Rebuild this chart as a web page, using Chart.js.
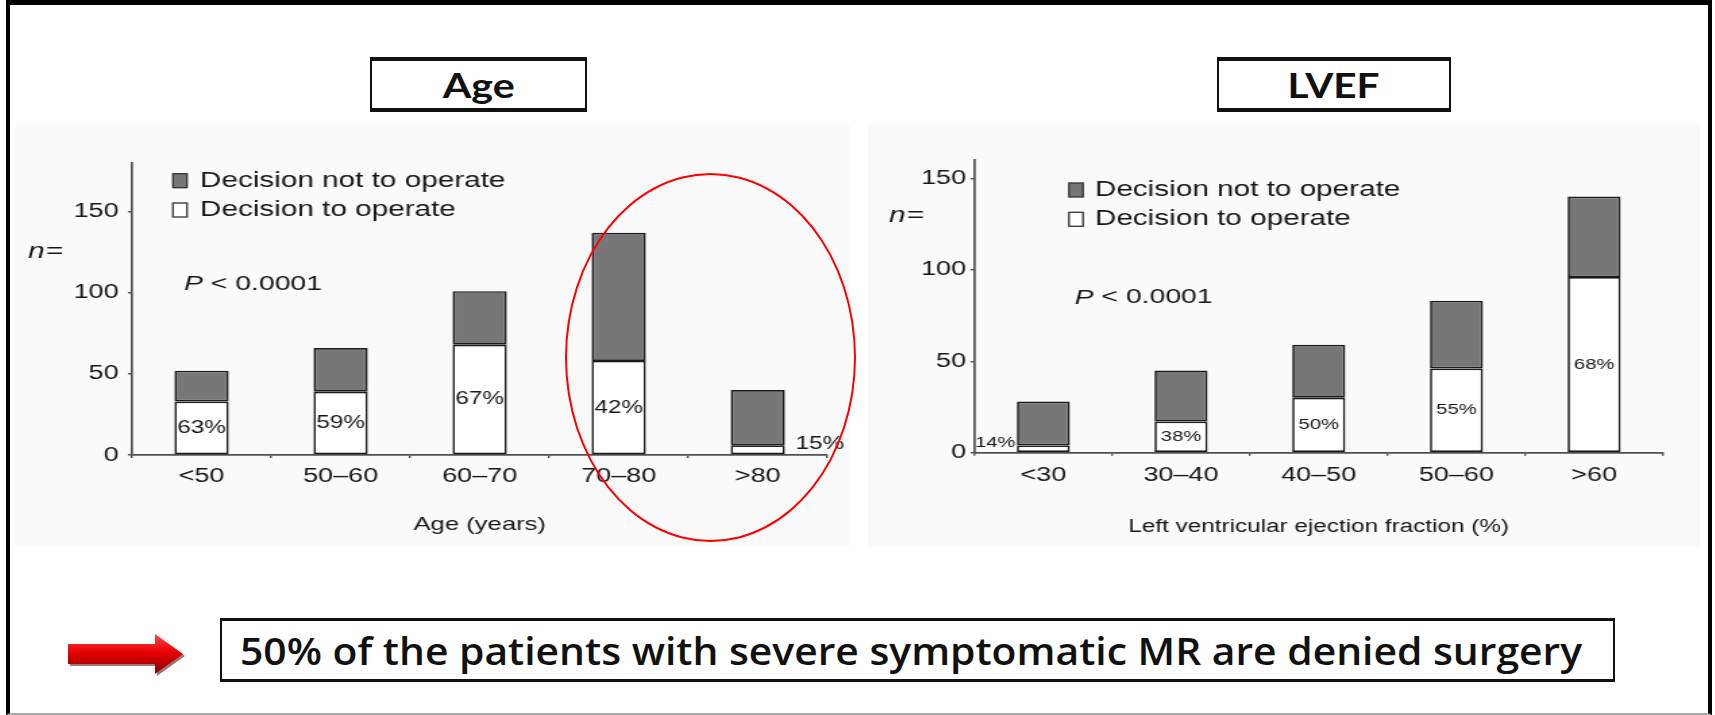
<!DOCTYPE html>
<html>
<head>
<meta charset="utf-8">
<script src="https://cdn.jsdelivr.net/npm/chart.js@4.4.0/dist/chart.umd.min.js"></script>
<style>
  html, body { margin: 0; padding: 0; background: #fff; }
  body { width: 1715px; height: 715px; position: relative; overflow: hidden; font-family: "Liberation Sans", Arial, sans-serif; }
  .abs { position: absolute; box-sizing: border-box; }
  #frame { left: 6px; top: 0; width: 1706px; height: 715px; border-top: 5px solid #000; border-left: 4px solid #000; border-right: 4px solid #000; border-bottom: 2px solid #aaa; }
  .panel { background: #fafafa; }
  .titlebox { border-top: 4px solid #111; border-bottom: 4px solid #111; border-left: 2px solid #111; border-right: 2px solid #111; background: #fff;
              display: flex; align-items: center; justify-content: center; }
  .titlebox span { font-family: Lato, "Open Sans", sans-serif; font-weight: 700; font-size: 34px; color: #111; display: inline-block; transform-origin: center center; }
  .stretch { transform: scaleX(1.35); transform-origin: left top; }
  #ellipse { left: 565px; top: 173px; width: 291px; height: 369px; border: 2.5px solid #f00; border-radius: 50%; }
  #msgbox { left: 220px; top: 618px; width: 1395px; height: 64px; border-top: 3px solid #111; border-bottom: 3px solid #111; border-left: 2px solid #111; border-right: 2px solid #111; background: #fff; }
  #msg { left: 240px; top: 650px; font-family: "Open Sans", Lato, sans-serif; font-weight: 600; font-size: 38px; color: #111; white-space: nowrap; transform-origin: left center; }
</style>
</head>
<body>
<div id="frame" class="abs"></div>
<div class="abs panel" style="left:15px;top:122px;width:835px;height:424px;"></div>
<div class="abs panel" style="left:868px;top:122px;width:832px;height:424px;"></div>

<div class="abs titlebox" style="left:370px;top:57px;width:217px;height:55px;"><span id="tAge">Age</span></div>
<div class="abs titlebox" style="left:1217px;top:57px;width:234px;height:55px;"><span id="tLvef">LVEF</span></div>

<div class="abs stretch" style="left:20px;top:130px;width:622.22px;height:420px;"><canvas id="ageChart"></canvas></div>
<div class="abs stretch" style="left:860px;top:130px;width:622.22px;height:420px;"><canvas id="lvefChart"></canvas></div>

<div id="ellipse" class="abs"></div>

<svg class="abs" style="left:60px;top:627px;" width="130" height="55" viewBox="0 0 130 55">
  <defs>
    <linearGradient id="arrowGrad" x1="0" y1="0" x2="0" y2="1">
      <stop offset="0" stop-color="#ff4a4a"/>
      <stop offset="0.45" stop-color="#e80000"/>
      <stop offset="1" stop-color="#8a0000"/>
    </linearGradient>
  </defs>
  <polygon points="10,19 97,19 97,9 125,29 97,49 97,39 10,39" fill="#5a0000" opacity="0.55"/>
  <polygon points="8,17 95,17 95,7 123,27 95,47 95,37 8,37" fill="url(#arrowGrad)"/>
</svg>

<div id="msgbox" class="abs"></div>
<div id="msg" class="abs">50% of the patients with severe symptomatic MR are denied surgery</div>

<script>
// data
const ageCategories = ['<50', '50\u201360', '60\u201370', '70\u201380', '>80'];
const ageOperate = [33, 39, 68, 58, 6];
const ageNotOperate = [19, 27, 33, 79, 34];
const agePercent = ['63%', '59%', '67%', '42%', '15%'];

const lvefCategories = ['<30', '30\u201340', '40\u201350', '50\u201360', '>60'];
const lvefOperate = [4, 17, 30, 46, 96];
const lvefNotOperate = [24, 28, 29, 37, 44];
const lvefPercent = ['14%', '38%', '50%', '55%', '68%'];

const ageYMax = 180;
const lvefYMax = 160;
const yStep = 50;
const pValueText = '< 0.0001';

const FONT = '"Liberation Sans", Arial, sans-serif';
const INK = '#161616';
const AXIS = '#505050';

const annotate = {
  id: 'annotate',
  afterDraw(chart, args, o) {
    const ctx = chart.ctx;
    const ds = chart.data.datasets;
    ctx.save();

    // legend drawn inside the plot, "not operate" first
    ctx.textBaseline = 'middle';
    ctx.textAlign = 'left';
    [1, 0].forEach((di, i) => {
      const cy = o.legendY + i * 29.3;
      ctx.fillStyle = ds[di].backgroundColor;
      ctx.fillRect(o.boxX, cy - 7, 10.4, 14);
      ctx.strokeStyle = '#333';
      ctx.lineWidth = 1.3;
      ctx.strokeRect(o.boxX, cy - 7, 10.4, 14);
      ctx.fillStyle = INK;
      ctx.font = `22px ${FONT}`;
      ctx.fillText(ds[di].label, o.textX, cy);
    });

    // n=
    ctx.font = `italic 22px ${FONT}`;
    ctx.fillText('n', o.nX, o.nY);
    const nw = ctx.measureText('n').width;
    ctx.font = `22px ${FONT}`;
    ctx.fillText('=', o.nX + nw + 1, o.nY);

    // P value
    ctx.font = `italic 21px ${FONT}`;
    ctx.fillText('P', o.pX, o.pY);
    const pw = ctx.measureText('P').width;
    ctx.font = `21px ${FONT}`;
    ctx.fillText(' ' + pValueText, o.pX + pw, o.pY);

    // percentages of operated patients
    ctx.font = `${o.pctSize}px ${FONT}`;
    const meta = chart.getDatasetMeta(0);
    meta.data.forEach((bar, i) => {
      const v = ds[0].data[i];
      const label = o.pct[i];
      if (v >= 10) {
        ctx.textAlign = 'center';
        ctx.fillText(label, bar.x, (bar.y + bar.base) / 2);
      } else if (o.outside === 'right') {
        ctx.textAlign = 'left';
        ctx.fillText(label, bar.x + bar.width / 2 + 8, bar.y - 1);
      } else {
        ctx.textAlign = 'right';
        ctx.fillText(label, bar.x - bar.width / 2 - 1, bar.y - 3);
      }
    });
    ctx.restore();
  }
};

function makeChart(id, cfg) {
  return new Chart(document.getElementById(id), {
    type: 'bar',
    data: {
      labels: cfg.categories,
      datasets: [
        { label: 'Decision to operate', data: cfg.operate, backgroundColor: '#ffffff',
          borderColor: '#1a1a1a', borderWidth: 1.7, borderSkipped: false,
          barPercentage: cfg.barPct, categoryPercentage: 1 },
        { label: 'Decision not to operate', data: cfg.notOperate, backgroundColor: '#777777',
          borderColor: '#1a1a1a', borderWidth: 1.7, borderSkipped: false,
          barPercentage: cfg.barPct, categoryPercentage: 1 }
      ]
    },
    options: {
      responsive: true,
      maintainAspectRatio: false,
      animation: false,
      layout: { padding: { left: 0, right: cfg.padRight, top: cfg.padTop, bottom: 0 } },
      plugins: {
        legend: { display: false },
        tooltip: { enabled: false },
        annotate: cfg.annot
      },
      scales: {
        x: {
          stacked: true,
          grid: { offset: true, drawOnChartArea: false, drawTicks: true, tickLength: 3, color: AXIS, lineWidth: 1.4 },
          border: { display: true, color: AXIS, width: 1.7 },
          ticks: { color: INK, font: { family: FONT, size: 20 }, padding: cfg.xTickPad, maxRotation: 0 },
          title: { display: true, text: cfg.xTitle, color: INK, font: { family: FONT, size: cfg.xTitleSize },
                   padding: { top: 0, bottom: cfg.xTitlePad } },
          afterFit: s => { s.height = cfg.xHeight; }
        },
        y: {
          stacked: true,
          min: 0,
          max: cfg.yMax,
          grid: { drawOnChartArea: false, drawTicks: true, tickLength: 3, color: AXIS, lineWidth: 1.4 },
          border: { display: true, color: AXIS, width: 1.7 },
          ticks: { stepSize: yStep, includeBounds: false, color: INK, font: { family: FONT, size: 20 }, padding: cfg.yTickPad },
          afterFit: s => { s.width = cfg.yWidth; }
        }
      }
    },
    plugins: [annotate]
  });
}

makeChart('ageChart', {
  categories: ageCategories, operate: ageOperate, notOperate: ageNotOperate,
  barPct: 0.39, padRight: 24.2, padTop: 33, yMax: ageYMax,
  xTitle: 'Age (years)', xTitleSize: 19, xTitlePad: 13.6, xHeight: 95, xTickPad: 6.7,
  yWidth: 83, yTickPad: 7,
  annot: { legendY: 50.7, boxX: 113.3, textX: 133.3, nX: 6, nY: 122, pX: 121.5, pY: 154,
           pct: agePercent, pctSize: 18, outside: 'right' }
});

makeChart('lvefChart', {
  categories: lvefCategories, operate: lvefOperate, notOperate: lvefNotOperate,
  barPct: 0.385, padRight: 27.4, padTop: 30, yMax: lvefYMax,
  xTitle: 'Left ventricular ejection fraction (%)', xTitleSize: 18, xTitlePad: 12.5, xHeight: 97.3, xTickPad: 7.3,
  yWidth: 84.8, yTickPad: 3.3,
  annot: { legendY: 60, boxX: 154.8, textX: 174, nX: 21.5, nY: 86, pX: 159, pY: 167.7,
           pct: lvefPercent, pctSize: 15, outside: 'left' }
});

function fitWidth(el, target, extra) {
  el.style.transform = extra || '';
  const w = el.getBoundingClientRect().width;
  el.style.transform = (extra ? extra + ' ' : '') + `scaleX(${target / w})`;
}

document.fonts.ready.then(() => {
  fitWidth(document.getElementById('msg'), 1342, 'translateY(-50%)');
  fitWidth(document.getElementById('tAge'), 72);
  fitWidth(document.getElementById('tLvef'), 92);
});
</script>
</body>
</html>
